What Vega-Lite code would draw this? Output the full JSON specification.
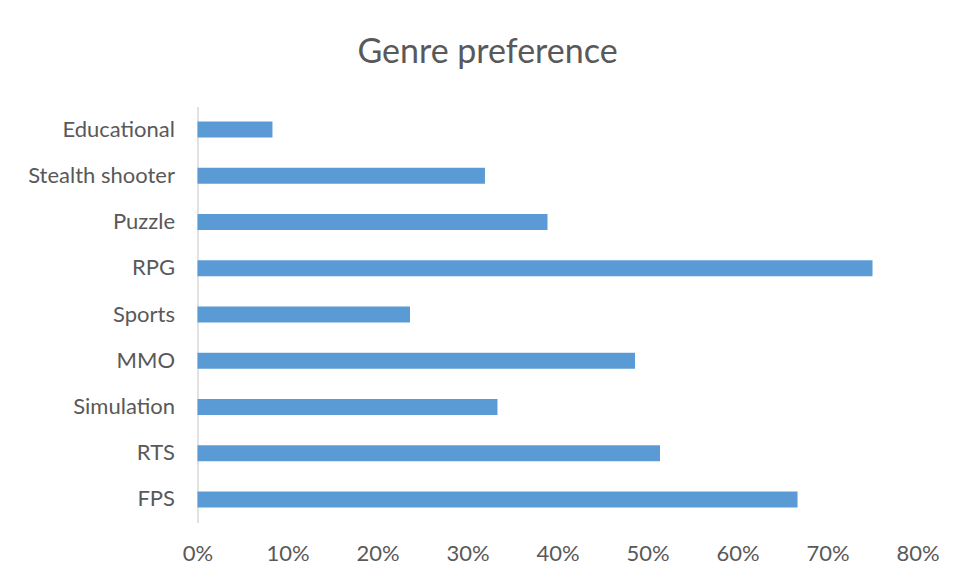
{
  "$schema": "https://vega.github.io/schema/vega-lite/v6.json",
  "autosize": "none",
  "width": 720,
  "height": 416,
  "padding": {"left": 197.5, "top": 106.5, "right": 40.5, "bottom": 55.5},
  "background": "white",
  "title": {
    "text": "Genre preference",
    "font": "Lato",
    "fontSize": 34,
    "fontWeight": "normal",
    "color": "#595959",
    "anchor": "middle",
    "dx": -70,
    "offset": 37
  },
  "data": {
    "values": [
      {"genre": "Educational", "share": 0.0833},
      {"genre": "Stealth shooter", "share": 0.3194},
      {"genre": "Puzzle", "share": 0.3889},
      {"genre": "RPG", "share": 0.75},
      {"genre": "Sports", "share": 0.2361},
      {"genre": "MMO", "share": 0.4861},
      {"genre": "Simulation", "share": 0.3333},
      {"genre": "RTS", "share": 0.5139},
      {"genre": "FPS", "share": 0.6667}
    ]
  },
  "mark": {"type": "bar", "color": "#5B9BD5"},
  "encoding": {
    "y": {
      "field": "genre",
      "type": "nominal",
      "sort": ["Educational", "Stealth shooter", "Puzzle", "RPG", "Sports", "MMO", "Simulation", "RTS", "FPS"],
      "scale": {"paddingInner": 0.654, "paddingOuter": 0.327},
      "axis": {
        "title": null,
        "ticks": false,
        "domainColor": "#D9D9D9",
        "domainWidth": 1.5,
        "labelFont": "Lato",
        "labelFontSize": 22,
        "labelColor": "#595959",
        "labelPadding": 23
      }
    },
    "x": {
      "field": "share",
      "type": "quantitative",
      "scale": {"domain": [0, 0.8], "nice": false},
      "axis": {
        "title": null,
        "format": ".0%",
        "values": [0, 0.1, 0.2, 0.3, 0.4, 0.5, 0.6, 0.7, 0.8],
        "grid": false,
        "ticks": false,
        "domain": false,
        "labelFlush": false,
        "labelOverlap": false,
        "labelFont": "Lato",
        "labelFontSize": 22,
        "labelColor": "#595959",
        "labelPadding": 21
      }
    }
  },
  "config": {"view": {"stroke": null}}
}
